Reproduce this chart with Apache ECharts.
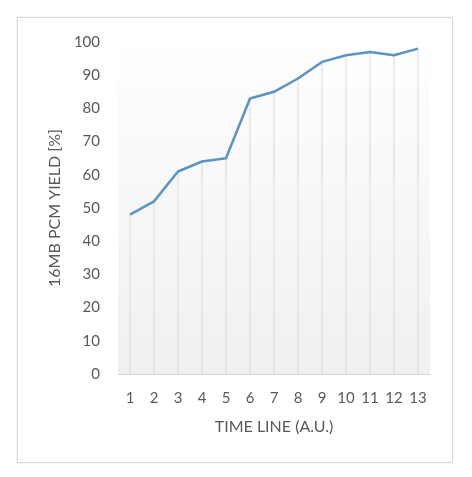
<!DOCTYPE html>
<html>
<head>
<meta charset="utf-8">
<script src="https://cdn.jsdelivr.net/npm/echarts@6/dist/echarts.min.js"></script>
<style>
html,body{margin:0;padding:0;background:#fff;}
#frame{position:absolute;left:17px;top:17px;width:436px;height:446px;border:1px solid #d9d9d9;box-sizing:border-box;box-shadow:0 0 2px #e6e6e6;}
#chart{position:absolute;left:0;top:0;width:472px;height:477px;}
</style>
</head>
<body>
<div id="frame"></div>
<div id="chart"></div>
<script>
const categories = ['1','2','3','4','5','6','7','8','9','10','11','12','13'];
const yieldValues = [48, 52, 61, 64, 65, 83, 85, 89, 94, 96, 97, 96, 98];
const yTicks = [0, 10, 20, 30, 40, 50, 60, 70, 80, 90, 100];

const chart = echarts.init(document.getElementById('chart'), null, {renderer: 'canvas'});
const font = 'Lato, "Open Sans", sans-serif';
chart.setOption({
  animation: false,
  grid: {
    left: 118, right: 42, top: 42, bottom: 103,
    show: true,
    borderWidth: 0,
    backgroundColor: new echarts.graphic.LinearGradient(0, 0, 0, 1, [
      {offset: 0, color: '#ffffff'},
      {offset: 0.15, color: '#fcfcfc'},
      {offset: 1, color: '#f0f0f0'}
    ])
  },
  xAxis: {
    type: 'category',
    data: categories,
    boundaryGap: true,
    name: 'TIME LINE (A.U.)',
    nameLocation: 'middle',
    nameGap: 45,
    nameTextStyle: {color: '#595959', fontSize: 16, fontFamily: font},
    axisLine: {lineStyle: {color: '#d9d9d9', width: 1}},
    axisTick: {show: false},
    axisLabel: {color: '#595959', fontSize: 15, fontFamily: font, margin: 17},
    splitLine: {show: false}
  },
  yAxis: {
    type: 'value',
    min: yTicks[0],
    max: yTicks[yTicks.length - 1],
    interval: 10,
    name: '16MB PCM YIELD [%]',
    nameLocation: 'middle',
    nameGap: 55,
    nameRotate: 90,
    nameTextStyle: {color: '#595959', fontSize: 16, fontFamily: font},
    axisLine: {show: false},
    axisTick: {show: false},
    axisLabel: {color: '#595959', fontSize: 15, fontFamily: font, margin: 18},
    splitLine: {show: false}
  },
  series: [
    {
      type: 'bar',
      data: yieldValues,
      barWidth: 1,
      itemStyle: {color: '#d9d9d9'},
      silent: true,
      z: 1
    },
    {
      type: 'line',
      data: yieldValues,
      symbol: 'none',
      lineStyle: {color: '#5b93c7', width: 2.5},
      z: 3
    }
  ]
});
</script>
</body>
</html>
